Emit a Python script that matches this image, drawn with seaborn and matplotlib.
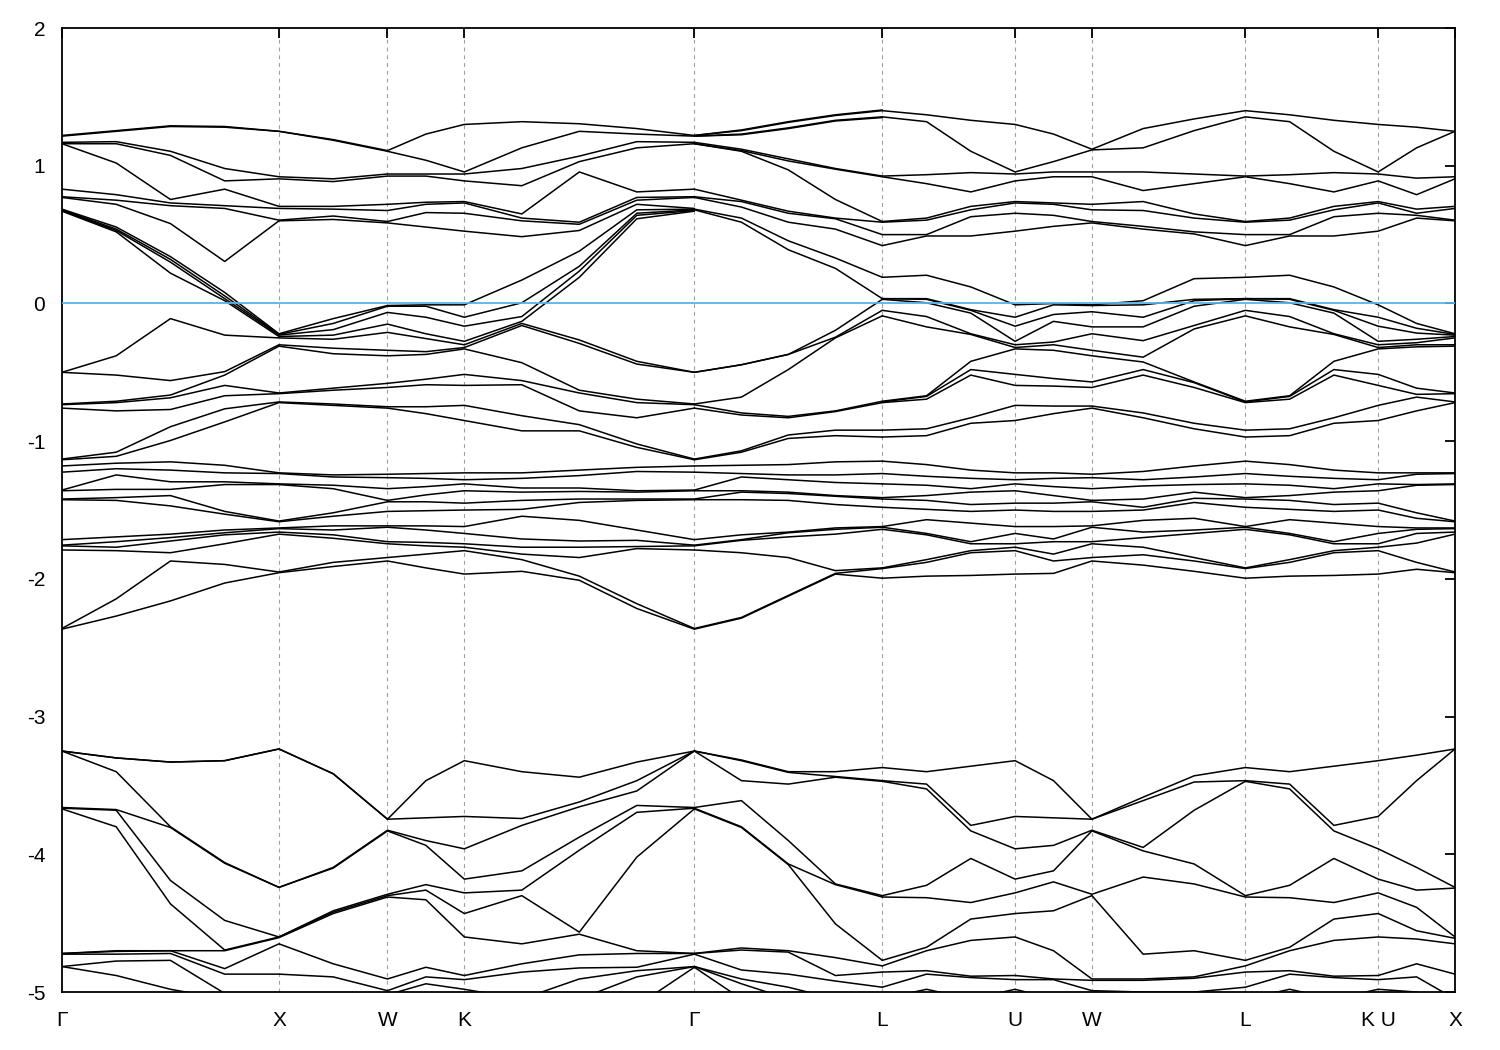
import numpy as np
import pandas as pd
import matplotlib
matplotlib.use("Agg")
import matplotlib.pyplot as plt
import seaborn as sns

# ---------------- K-PATH ----------------
tick_k = [0.0, 1.0, 1.5, 1.854, 2.914, 3.780, 4.392, 4.746, 5.453, 6.065, 6.419]
tick_labels = ["Γ", "X", "W", "K", "Γ", "L", "U", "W", "L", "K U", "X"]

# ---------------- ENERGIES (eV) ----------------
# one list per sampled k-point, bands sorted from the top:
# 19 bands of the upper manifold | 12 of the middle one | 12 of the bottom one
e_G_x = [1.22, 1.215, 1.17, 1.16, 1.16, 0.83, 0.775, 0.77, 0.685, 0.68, 0.675, 0.67, -0.50, -0.50, -0.73, -0.735, -0.76, -1.13, -1.135,
         -1.18, -1.225, -1.355, -1.36, -1.42, -1.425, -1.715, -1.755, -1.76, -1.79, -2.36, -2.365,
         -3.25, -3.25, -3.25, -3.66, -3.665, -3.67, -4.72, -4.72, -4.725, -4.815, -4.815, -5.05]
e_gx1 = [1.255, 1.25, 1.175, 1.16, 1.02, 0.79, 0.75, 0.72, 0.555, 0.54, 0.53, 0.52, -0.38, -0.52, -0.71, -0.72, -0.78, -1.08, -1.11,
         -1.16, -1.20, -1.245, -1.35, -1.41, -1.43, -1.695, -1.73, -1.77, -1.795, -2.145, -2.27,
         -3.30, -3.30, -3.40, -3.675, -3.68, -3.80, -4.70, -4.705, -4.725, -4.775, -4.88, -5.10]
e_gx2 = [1.29, 1.285, 1.105, 1.075, 0.755, 0.73, 0.71, 0.58, 0.34, 0.32, 0.30, 0.22, -0.11, -0.56, -0.665, -0.685, -0.77, -0.895, -0.995,
         -1.15, -1.21, -1.295, -1.35, -1.395, -1.47, -1.675, -1.70, -1.725, -1.81, -1.87, -2.16,
         -3.33, -3.33, -3.80, -3.805, -4.19, -4.36, -4.70, -4.70, -4.72, -4.77, -4.98, -5.10]
e_gx3 = [1.285, 1.28, 0.98, 0.89, 0.83, 0.71, 0.69, 0.305, 0.08, 0.055, 0.035, 0.02, -0.23, -0.495, -0.52, -0.595, -0.67, -0.765, -0.86,
         -1.175, -1.23, -1.295, -1.315, -1.51, -1.53, -1.645, -1.665, -1.68, -1.745, -1.895, -2.03,
         -3.32, -3.32, -4.06, -4.065, -4.48, -4.695, -4.70, -4.83, -4.87, -5.01, -5.05, -5.15]
e_X = [1.25, 1.25, 0.92, 0.905, 0.705, 0.69, 0.605, 0.60, -0.22, -0.225, -0.23, -0.24, -0.25, -0.30, -0.31, -0.65, -0.655, -0.715, -0.72,
       -1.23, -1.235, -1.31, -1.315, -1.58, -1.585, -1.63, -1.635, -1.66, -1.675, -1.95, -1.955,
       -3.235, -3.235, -4.24, -4.24, -4.60, -4.60, -4.605, -4.65, -4.87, -5.05, -5.10, -5.15]
e_xw1 = [1.19, 1.185, 0.905, 0.885, 0.705, 0.685, 0.635, 0.61, -0.11, -0.145, -0.19, -0.23, -0.26, -0.325, -0.365, -0.615, -0.63, -0.73, -0.74,
         -1.245, -1.26, -1.32, -1.345, -1.52, -1.545, -1.615, -1.645, -1.68, -1.705, -1.88, -1.91,
         -3.415, -3.415, -4.095, -4.10, -4.41, -4.42, -4.43, -4.795, -4.89, -5.05, -5.10, -5.15]
e_W_x = [1.11, 1.105, 0.94, 0.925, 0.72, 0.675, 0.595, 0.585, -0.015, -0.02, -0.065, -0.15, -0.21, -0.34, -0.38, -0.58, -0.61, -0.75, -0.76,
         -1.24, -1.265, -1.345, -1.43, -1.44, -1.51, -1.615, -1.625, -1.73, -1.745, -1.845, -1.87,
         -3.745, -3.745, -3.825, -3.83, -4.29, -4.30, -4.31, -4.905, -4.99, -5.02, -5.10, -5.15]
e_wk1 = [1.23, 1.04, 0.94, 0.925, 0.735, 0.72, 0.66, 0.555, -0.01, -0.02, -0.10, -0.22, -0.255, -0.35, -0.37, -0.55, -0.59, -0.75, -0.80,
         -1.235, -1.27, -1.33, -1.39, -1.44, -1.505, -1.615, -1.645, -1.735, -1.76, -1.82, -1.92,
         -3.465, -3.735, -3.90, -3.935, -4.22, -4.26, -4.33, -4.82, -4.89, -4.94, -5.05, -5.10]
e_K = [1.30, 0.955, 0.94, 0.89, 0.74, 0.73, 0.655, 0.525, -0.01, -0.10, -0.165, -0.275, -0.30, -0.32, -0.33, -0.515, -0.595, -0.74, -0.85,
       -1.23, -1.28, -1.31, -1.36, -1.45, -1.50, -1.62, -1.67, -1.745, -1.77, -1.795, -1.965,
       -3.32, -3.725, -3.96, -4.18, -4.28, -4.43, -4.60, -4.88, -4.91, -4.98, -5.10, -5.15]
e_kg1 = [1.32, 1.13, 0.98, 0.855, 0.65, 0.62, 0.60, 0.485, 0.17, 0.005, -0.095, -0.13, -0.145, -0.16, -0.43, -0.56, -0.59, -0.815, -0.925,
         -1.23, -1.27, -1.34, -1.37, -1.43, -1.495, -1.545, -1.71, -1.77, -1.82, -1.86, -1.945,
         -3.40, -3.74, -3.79, -4.12, -4.26, -4.30, -4.65, -4.795, -4.855, -5.05, -5.10, -5.15]
e_kg2 = [1.305, 1.25, 1.07, 1.03, 0.955, 0.59, 0.575, 0.53, 0.38, 0.27, 0.235, 0.19, -0.265, -0.29, -0.63, -0.65, -0.78, -0.88, -0.925,
         -1.21, -1.25, -1.34, -1.365, -1.42, -1.445, -1.575, -1.725, -1.77, -1.845, -1.98, -2.01,
         -3.44, -3.62, -3.655, -3.875, -3.97, -4.565, -4.58, -4.73, -4.825, -4.905, -5.05, -5.10]
e_kg3 = [1.27, 1.23, 1.175, 1.13, 0.81, 0.77, 0.75, 0.72, 0.68, 0.655, 0.64, 0.615, -0.42, -0.44, -0.695, -0.72, -0.83, -1.02, -1.045,
         -1.19, -1.22, -1.36, -1.37, -1.42, -1.43, -1.645, -1.72, -1.765, -1.78, -2.18, -2.215,
         -3.33, -3.465, -3.54, -3.645, -3.695, -4.02, -4.70, -4.72, -4.82, -4.845, -4.89, -5.10]
e_G_k = [1.22, 1.215, 1.17, 1.16, 0.83, 0.775, 0.77, 0.69, 0.685, 0.68, 0.675, 0.67, -0.50, -0.50, -0.73, -0.735, -0.76, -1.13, -1.135,
         -1.18, -1.225, -1.355, -1.36, -1.42, -1.425, -1.715, -1.755, -1.76, -1.79, -2.36, -2.365,
         -3.25, -3.25, -3.25, -3.66, -3.665, -3.67, -4.72, -4.72, -4.725, -4.815, -4.815, -4.82]
e_G_l = [1.22, 1.22, 1.215, 1.215, 1.17, 1.16, 1.16, 0.83, 0.775, 0.77, 0.685, 0.68, -0.50, -0.50, -0.73, -0.735, -0.76, -1.13, -1.135,
         -1.18, -1.225, -1.355, -1.36, -1.42, -1.425, -1.715, -1.755, -1.76, -1.79, -2.36, -2.365,
         -3.25, -3.25, -3.25, -3.66, -3.665, -3.67, -4.72, -4.72, -4.725, -4.815, -4.815, -4.82]
e_gl1 = [1.26, 1.255, 1.23, 1.225, 1.12, 1.11, 1.105, 0.75, 0.74, 0.70, 0.62, 0.59, -0.445, -0.445, -0.68, -0.795, -0.81, -1.07, -1.08,
         -1.175, -1.235, -1.26, -1.36, -1.37, -1.425, -1.68, -1.715, -1.72, -1.81, -2.28, -2.285,
         -3.315, -3.32, -3.465, -3.61, -3.80, -3.805, -4.68, -4.695, -4.84, -4.905, -4.94, -5.05]
e_gl2 = [1.32, 1.315, 1.275, 1.27, 1.05, 1.035, 0.97, 0.67, 0.655, 0.59, 0.455, 0.39, -0.37, -0.37, -0.48, -0.82, -0.83, -0.955, -0.98,
         -1.17, -1.245, -1.28, -1.37, -1.38, -1.43, -1.66, -1.665, -1.695, -1.845, -2.12, -2.125,
         -3.40, -3.405, -3.49, -3.90, -4.07, -4.075, -4.70, -4.71, -4.87, -4.965, -5.05, -5.10]
e_gl3 = [1.37, 1.365, 1.33, 1.325, 0.98, 0.975, 0.755, 0.62, 0.615, 0.54, 0.33, 0.255, -0.195, -0.245, -0.25, -0.78, -0.785, -0.92, -0.96,
         -1.15, -1.245, -1.30, -1.395, -1.40, -1.46, -1.63, -1.64, -1.675, -1.94, -1.96, -1.965,
         -3.40, -3.435, -3.44, -4.215, -4.22, -4.505, -4.75, -4.88, -4.92, -5.05, -5.10, -5.15]
e_L_g = [1.405, 1.40, 1.355, 1.35, 0.925, 0.92, 0.595, 0.59, 0.50, 0.42, 0.19, 0.035, 0.03, -0.05, -0.09, -0.71, -0.72, -0.92, -0.97,
         -1.145, -1.235, -1.31, -1.41, -1.42, -1.48, -1.62, -1.625, -1.64, -1.92, -1.925, -1.995,
         -3.37, -3.465, -3.47, -4.30, -4.31, -4.77, -4.81, -4.855, -4.965, -5.05, -5.10, -5.15]
e_L_w = [1.40, 1.355, 0.925, 0.92, 0.595, 0.59, 0.50, 0.42, 0.19, 0.035, 0.035, 0.03, -0.05, -0.09, -0.71, -0.715, -0.72, -0.92, -0.97,
         -1.145, -1.235, -1.31, -1.41, -1.42, -1.48, -1.62, -1.625, -1.64, -1.92, -1.925, -1.995,
         -3.37, -3.465, -3.47, -4.30, -4.31, -4.77, -4.81, -4.855, -4.965, -5.05, -5.10, -5.15]
e_lu1 = [1.37, 1.32, 0.935, 0.87, 0.62, 0.605, 0.50, 0.49, 0.205, 0.035, 0.03, 0.005, -0.095, -0.17, -0.67, -0.675, -0.695, -0.91, -0.96,
         -1.17, -1.255, -1.32, -1.395, -1.43, -1.495, -1.57, -1.67, -1.68, -1.86, -1.88, -1.98,
         -3.40, -3.49, -3.525, -4.225, -4.315, -4.675, -4.70, -4.845, -4.87, -4.98, -5.05, -5.10]
e_lu2 = [1.33, 1.105, 0.95, 0.81, 0.705, 0.68, 0.63, 0.49, 0.12, -0.045, -0.05, -0.07, -0.22, -0.225, -0.42, -0.48, -0.52, -0.83, -0.87,
         -1.21, -1.27, -1.345, -1.37, -1.46, -1.51, -1.595, -1.73, -1.745, -1.795, -1.81, -1.975,
         -3.36, -3.79, -3.83, -4.03, -4.35, -4.47, -4.625, -4.885, -4.895, -5.05, -5.10, -5.15]
e_uw1 = [1.23, 1.03, 0.955, 0.92, 0.73, 0.72, 0.64, 0.56, 0.0, -0.01, -0.08, -0.13, -0.28, -0.30, -0.34, -0.545, -0.60, -0.745, -0.80,
         -1.23, -1.27, -1.33, -1.395, -1.45, -1.51, -1.62, -1.71, -1.73, -1.82, -1.87, -1.96,
         -3.465, -3.735, -3.935, -4.12, -4.20, -4.41, -4.70, -4.905, -4.91, -5.05, -5.10, -5.15]
e_W_u = [1.12, 1.115, 0.955, 0.92, 0.72, 0.68, 0.595, 0.585, -0.01, -0.015, -0.06, -0.17, -0.22, -0.34, -0.38, -0.57, -0.61, -0.745, -0.76,
         -1.24, -1.265, -1.345, -1.43, -1.44, -1.51, -1.615, -1.625, -1.73, -1.745, -1.845, -1.87,
         -3.745, -3.745, -3.825, -3.83, -4.29, -4.30, -4.905, -4.915, -4.99, -5.02, -5.10, -5.15]
e_wl1 = [1.27, 1.13, 0.955, 0.82, 0.74, 0.675, 0.56, 0.54, 0.02, -0.01, -0.10, -0.17, -0.27, -0.39, -0.425, -0.48, -0.52, -0.795, -0.83,
         -1.22, -1.28, -1.325, -1.42, -1.48, -1.50, -1.575, -1.66, -1.70, -1.77, -1.825, -1.90,
         -3.585, -3.61, -3.95, -3.975, -4.165, -4.725, -4.905, -4.915, -5.0, -5.05, -5.10, -5.15]
e_wl2 = [1.34, 1.255, 0.94, 0.87, 0.65, 0.62, 0.52, 0.505, 0.18, 0.03, 0.02, -0.02, -0.16, -0.185, -0.57, -0.575, -0.61, -0.87, -0.91,
         -1.18, -1.26, -1.315, -1.37, -1.415, -1.445, -1.56, -1.645, -1.67, -1.845, -1.87, -1.945,
         -3.43, -3.475, -3.68, -4.07, -4.215, -4.70, -4.89, -4.90, -5.0, -5.05, -5.10, -5.15]
e_ux1 = [1.28, 1.13, 0.91, 0.79, 0.685, 0.655, 0.64, 0.62, -0.145, -0.18, -0.215, -0.26, -0.285, -0.30, -0.315, -0.615, -0.66, -0.68, -0.78,
         -1.23, -1.24, -1.315, -1.32, -1.52, -1.56, -1.63, -1.64, -1.67, -1.74, -1.88, -1.93,
         -3.28, -3.465, -4.095, -4.26, -4.385, -4.555, -4.615, -4.795, -4.89, -5.0, -5.05, -5.10]
e_X_end = [1.25, 1.25, 0.92, 0.905, 0.705, 0.69, 0.605, 0.60, -0.22, -0.225, -0.23, -0.24, -0.25, -0.30, -0.31, -0.65, -0.655, -0.715, -0.72,
           -1.23, -1.235, -1.31, -1.315, -1.58, -1.585, -1.63, -1.635, -1.66, -1.675, -1.95, -1.955,
           -3.235, -3.235, -4.24, -4.245, -4.60, -4.61, -4.65, -4.87, -5.05, -5.10, -5.15, -5.20]

# ---------------- PATH PIECES ----------------
piece_1 = [(0.0, e_G_x), (0.25, e_gx1), (0.5, e_gx2), (0.75, e_gx3), (1.0, e_X),
           (1.25, e_xw1), (1.5, e_W_x), (1.677, e_wk1), (1.854, e_K),
           (2.119, e_kg1), (2.384, e_kg2), (2.649, e_kg3), (2.914, e_G_k)]
piece_2 = [(2.914, e_G_l), (3.131, e_gl1), (3.347, e_gl2), (3.564, e_gl3), (3.780, e_L_g)]
piece_3 = [(3.780, e_L_w), (3.984, e_lu1), (4.188, e_lu2), (4.392, e_K), (4.569, e_uw1),
           (4.746, e_W_u), (4.982, e_wl1), (5.217, e_wl2), (5.453, e_L_w),
           (5.657, e_lu1), (5.861, e_lu2), (6.065, e_K), (6.242, e_ux1), (6.419, e_X_end)]

rows = []
for p, piece in enumerate([piece_1, piece_2, piece_3]):
    for k, energies in piece:
        for b, e in enumerate(energies):
            rows.append({"k": k, "E": e, "line": f"{p}_{b}"})
df = pd.DataFrame(rows)

# ---------------- PLOT ----------------
sns.set_theme(style="white")
plt.rcParams["font.family"] = ["Liberation Sans", "DejaVu Sans"]

fig = plt.figure(figsize=(15, 10.5), dpi=100)
ax = fig.add_axes([0.0413, 0.0552, 0.9287, 0.9181])

for k in tick_k[1:-1]:
    ax.axvline(k, color="#a0a0a0", lw=0.8, ls=(0, (3.5, 3.5)), zorder=0)

sns.lineplot(data=df, x="k", y="E", units="line", estimator=None, sort=False,
             color="black", linewidth=1.1, legend=False, ax=ax)

ax.axhline(0, color="#56b4e9", lw=1.3, zorder=3)

ax.set_xlim(tick_k[0], tick_k[-1])
ax.set_ylim(-5, 2)
ax.set_xticks(tick_k)
ax.set_xticklabels(tick_labels)
ax.set_yticks(range(-5, 3))
ax.set_yticklabels([str(v) for v in range(-5, 3)])
ax.set_xlabel("")
ax.set_ylabel("")

ax.tick_params(axis="both", direction="in", length=7, width=1.3, labelsize=15,
               top=True, right=True, colors="black")
ax.tick_params(axis="x", pad=14)
ax.tick_params(axis="y", pad=12)
for s in ax.spines.values():
    s.set_linewidth(1.3)
    s.set_color("black")

fig.savefig("out.png", dpi=100)
